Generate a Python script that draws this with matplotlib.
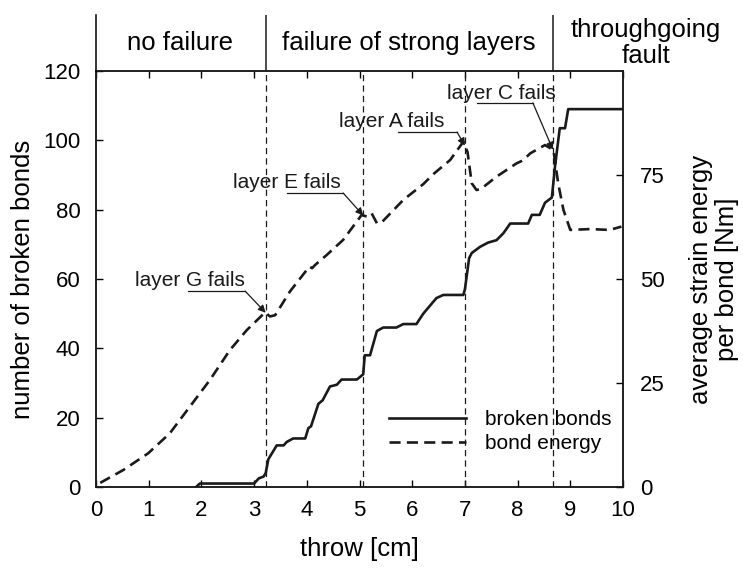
import numpy as np
import matplotlib
matplotlib.use("Agg")
import matplotlib.pyplot as plt

plt.rcParams["font.family"] = ["Liberation Sans", "DejaVu Sans"]
plt.rcParams["lines.scale_dashes"] = False

# broken bonds vs throw (left axis)
bonds_x = [1.90, 1.97, 3.00, 3.09, 3.18, 3.22, 3.27, 3.43, 3.56, 3.62, 3.74, 3.97,
           4.03, 4.08, 4.22, 4.30, 4.44, 4.57, 4.66, 4.95, 5.07, 5.10, 5.20, 5.33,
           5.45, 5.70, 5.83, 6.08, 6.21, 6.46, 6.59, 6.97, 7.00, 7.08, 7.13, 7.29,
           7.44, 7.60, 7.73, 7.86, 7.92, 8.20, 8.27, 8.42, 8.52, 8.65, 8.71, 8.80,
           8.90, 8.96, 10.0]
bonds_y = [0, 1, 1, 2.5, 3, 4, 8, 12, 12, 13, 14, 14,
           17, 17.5, 24, 25, 29, 29.5, 31, 31, 32.5, 38, 38, 45,
           46, 46, 47, 47, 50, 54.5, 55.4, 55.4, 57, 66, 67.5, 69.3,
           70.5, 71.2, 73.2, 76, 76, 76, 78.5, 78.5, 82, 83.5, 92.5, 103.5,
           103.5, 109, 109]

# average strain energy per bond (right axis)
energy_x = [0.08, 0.52, 0.99, 1.40, 1.78, 2.16, 2.54, 2.86, 3.21, 3.30, 3.40, 3.68,
            4.05, 4.10, 4.16, 4.38, 4.69, 5.04, 5.14, 5.23, 5.33, 5.42, 5.83, 6.21,
            6.40, 6.72, 6.97, 7.05, 7.13, 7.22, 7.30, 7.60, 7.98, 8.10, 8.24, 8.52,
            8.68, 8.77, 8.87, 9.00, 9.37, 9.75, 9.97]
energy_y = [1.0, 4.1, 8.1, 12.9, 19.3, 25.7, 32.9, 37.7, 42.0, 41.0, 41.3, 47.0,
            53.0, 52.6, 53.4, 55.8, 59.4, 65.4, 65.0, 65.8, 63.4, 63.6, 69.0, 72.8,
            75.2, 78.6, 83.0, 80.5, 73.0, 71.4, 71.6, 74.6, 77.8, 78.5, 80.2, 82.2,
            81.0, 73.0, 66.6, 61.8, 62.0, 61.8, 62.6]

failure_x = [3.22, 5.07, 7.0, 8.67]
phase_bounds = [3.22, 8.67]

# label, text (x, y), leader line x0, x1, y, failure throw  -- left-axis units
notes = [
    ("layer G fails", 1.78, 59.7, 1.75, 2.83, 56.5, 3.22),
    ("layer E fails", 3.62, 87.7, 3.62, 4.69, 84.8, 5.07),
    ("layer A fails", 5.62, 105.3, 5.73, 6.85, 102.4, 7.0),
    ("layer C fails", 7.69, 113.6, 7.23, 8.29, 110.8, 8.67),
]

fig = plt.figure(figsize=(7.43, 5.68), dpi=100)
left, width = 96 / 743, 527 / 743
bottom, height = 1 - 487 / 568, 416 / 568
ax = fig.add_axes([left, bottom, width, height])
ax2 = ax.twinx()
top_ax = fig.add_axes([left, bottom + height, width, 56 / 568])

line_b, = ax.plot(bonds_x, bonds_y, color="#1a1a1a", lw=1.9, label="broken bonds")
line_e, = ax2.plot(energy_x, energy_y, color="#1a1a1a", lw=1.9,
                   linestyle=(0, (8, 4.5)), label="bond energy")

for fx in failure_x:
    ax.axvline(fx, color="#1a1a1a", lw=0.9, linestyle=(0, (4.5, 3)))

ax.set_xlim(0, 10)
ax.set_ylim(0, 120)
ax2.set_ylim(0, 100)
ax.set_xticks(range(11))
ax.set_yticks(range(0, 121, 20))
ax2.set_yticks([0, 25, 50, 75])
ax.tick_params(axis="x", direction="in", top=True, length=5, width=1,
               labelsize=16, pad=9)
ax.tick_params(axis="y", direction="in", length=5, width=1, labelsize=16, pad=11)
ax2.tick_params(axis="y", direction="in", length=5, width=1, labelsize=16, pad=12)
for a in (ax, ax2):
    for s in a.spines.values():
        s.set_linewidth(1.1)
        s.set_color("#1a1a1a")

ax.set_xlabel("throw [cm]", fontsize=18.5, labelpad=12)
ax.set_ylabel("number of broken bonds", fontsize=18.5)
ax.yaxis.set_label_coords((23 - 96) / 527, 0.5)
ax.yaxis.label.set_va("center")
ax2.set_ylabel("average strain energy\nper bond [Nm]", fontsize=18.5,
               rotation=90, va="center", ha="center", linespacing=1.1)
ax2.yaxis.set_label_coords((714 - 96) / 527, 0.5)

# annotations with a leader line and an arrow onto the energy curve
for label, tx, ty, lx0, lx1, ly, fx in notes:
    ax.text(tx, ty, label, fontsize=15, ha="center", va="center", color="#1a1a1a")
    ax.plot([lx0, lx1], [ly, ly], color="#1a1a1a", lw=0.9)
    target = (fx, np.interp(fx, energy_x, energy_y))
    ax2.annotate("", xy=target, xycoords="data", xytext=(lx1, ly),
                 textcoords=ax.transData,
                 arrowprops=dict(arrowstyle="-|>", color="#1a1a1a", lw=0.9,
                                 mutation_scale=11, shrinkA=0, shrinkB=0))

leg = ax2.legend(handles=[line_b, line_e], loc="upper left",
                 bbox_to_anchor=(0.556, 0.185), frameon=False, fontsize=15,
                 handlelength=3.7, handletextpad=0.9, labelspacing=0.25,
                 borderpad=0, borderaxespad=0)

# header strip with the deformation phases
top_ax.set_xlim(0, 10)
top_ax.set_ylim(0, 1)
top_ax.set_xticks([])
top_ax.set_yticks([])
top_ax.patch.set_alpha(0)
for name, s in top_ax.spines.items():
    s.set_visible(name == "left")
    s.set_linewidth(1.1)
for bx in phase_bounds:
    top_ax.axvline(bx, color="#1a1a1a", lw=1.1)
top_ax.text(1.6, 0.5, "no failure", fontsize=18.5, ha="center", va="center")
top_ax.text(5.94, 0.5, "failure of strong layers", fontsize=18.5,
            ha="center", va="center")
top_ax.text(10.44, 0.5, "throughgoing\nfault", fontsize=18.5, ha="center",
            va="center", linespacing=1.1, clip_on=False)

fig.savefig("out.png", dpi=100)
